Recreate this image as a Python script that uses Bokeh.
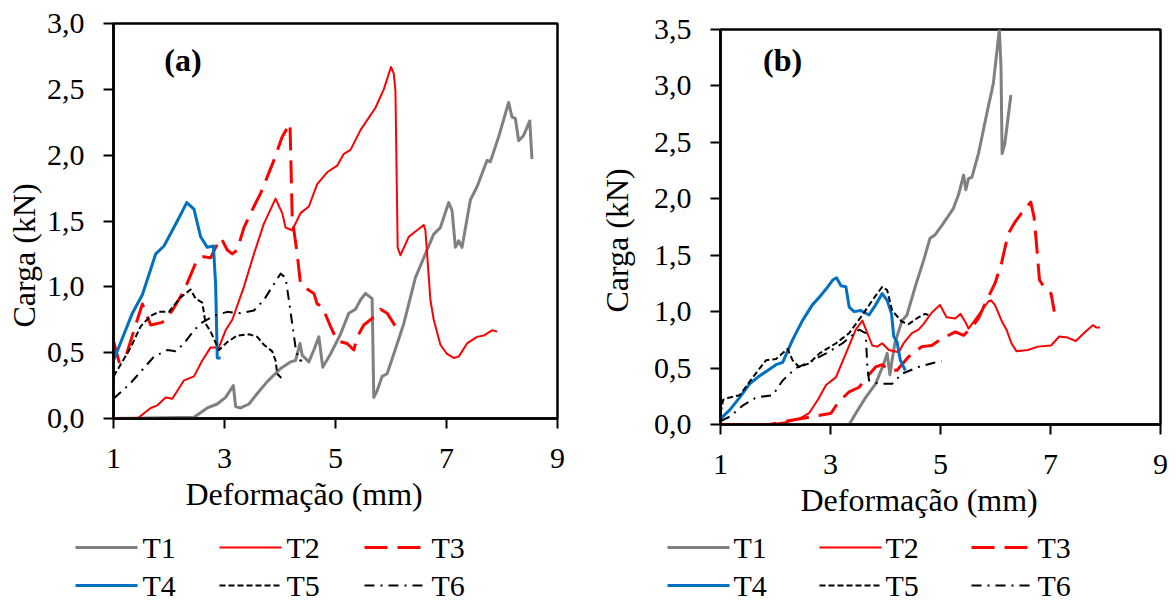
from bokeh.plotting import figure
from bokeh.layouts import row, column
from bokeh.models import FixedTicker, Label, Range1d, Title
from bokeh.core.properties import value
from bokeh.embed import file_html
from bokeh.resources import INLINE

FONT = "Liberation Serif"

# ---------------- data: panel (a) ----------------
T1a_x = [1.0, 2.45, 2.69, 2.87, 3.02, 3.16, 3.20, 3.29, 3.44, 3.59, 3.77, 4.01, 4.19, 4.28, 4.36, 4.40, 4.52, 4.61, 4.70, 4.77, 4.91, 5.09, 5.24, 5.36, 5.45, 5.54, 5.66, 5.69, 5.75, 5.84, 5.93, 6.05, 6.23, 6.44, 6.62, 6.77, 6.89, 7.04, 7.10, 7.16, 7.22, 7.28, 7.43, 7.55, 7.73, 7.79, 7.94, 8.12, 8.18, 8.24, 8.30, 8.39, 8.50, 8.54]
T1a_y = [0.0, 0.01, 0.08, 0.11, 0.16, 0.25, 0.09, 0.08, 0.11, 0.19, 0.28, 0.38, 0.43, 0.44, 0.57, 0.48, 0.43, 0.52, 0.62, 0.39, 0.49, 0.64, 0.80, 0.83, 0.90, 0.95, 0.91, 0.16, 0.21, 0.32, 0.34, 0.49, 0.72, 1.07, 1.25, 1.40, 1.45, 1.64, 1.58, 1.30, 1.35, 1.30, 1.66, 1.76, 1.96, 1.95, 2.14, 2.40, 2.29, 2.28, 2.11, 2.15, 2.26, 1.97]

T2a_x = [1.0, 1.43, 1.67, 1.79, 1.94, 2.06, 2.27, 2.45, 2.60, 2.75, 2.90, 3.02, 3.14, 3.35, 3.53, 3.71, 3.92, 4.04, 4.10, 4.22, 4.37, 4.52, 4.67, 4.85, 5.03, 5.15, 5.27, 5.45, 5.72, 5.87, 6.00, 6.05, 6.08, 6.12, 6.17, 6.32, 6.47, 6.59, 6.62, 6.71, 6.77, 6.89, 7.01, 7.13, 7.22, 7.37, 7.55, 7.67, 7.82, 7.91]
T2a_y = [0.0, 0.0, 0.08, 0.10, 0.16, 0.15, 0.29, 0.32, 0.44, 0.54, 0.54, 0.67, 0.75, 1.00, 1.25, 1.48, 1.67, 1.56, 1.45, 1.43, 1.56, 1.61, 1.78, 1.87, 1.92, 2.01, 2.04, 2.19, 2.36, 2.50, 2.67, 2.62, 2.49, 1.30, 1.24, 1.38, 1.43, 1.47, 1.43, 0.90, 0.75, 0.56, 0.49, 0.46, 0.47, 0.57, 0.62, 0.63, 0.67, 0.66]

T3a_x = [1.0, 1.10, 1.22, 1.52, 1.67, 1.88, 2.06, 2.27, 2.48, 2.60, 2.75, 2.84, 2.94, 3.05, 3.14, 3.23, 3.35, 3.53, 3.65, 3.89, 4.04, 4.18, 4.22, 4.25, 4.31, 4.37, 4.43, 4.61, 4.67, 4.76, 4.91, 5.03, 5.21, 5.33, 5.39, 5.51, 5.66, 5.81, 5.93, 6.08]
T3a_y = [0.59, 0.43, 0.47, 0.87, 0.71, 0.73, 0.82, 0.97, 1.18, 1.23, 1.22, 1.30, 1.37, 1.28, 1.25, 1.28, 1.45, 1.61, 1.71, 1.96, 2.14, 2.24, 1.53, 1.43, 1.25, 1.02, 1.00, 0.95, 0.87, 0.85, 0.70, 0.59, 0.57, 0.52, 0.62, 0.71, 0.76, 0.83, 0.80, 0.70]

T4a_x = [1.0, 1.34, 1.52, 1.76, 1.91, 2.15, 2.32, 2.45, 2.57, 2.69, 2.80, 2.84, 2.87, 2.93]
T4a_y = [0.44, 0.80, 0.94, 1.25, 1.31, 1.50, 1.64, 1.59, 1.38, 1.30, 1.31, 1.02, 0.46, 0.46]

T5a_x = [1.0, 1.10, 1.31, 1.49, 1.67, 1.82, 2.00, 2.21, 2.39, 2.48, 2.60, 2.66, 2.75, 2.90, 3.05, 3.23, 3.44, 3.59, 3.71, 3.86, 3.92, 3.95, 4.04]
T5a_y = [0.32, 0.39, 0.54, 0.70, 0.78, 0.81, 0.81, 0.92, 0.98, 0.91, 0.88, 0.72, 0.66, 0.52, 0.58, 0.63, 0.64, 0.62, 0.56, 0.51, 0.44, 0.34, 0.30]

T6a_x = [1.0, 1.16, 1.31, 1.52, 1.73, 1.97, 2.12, 2.27, 2.45, 2.60, 2.81, 3.05, 3.29, 3.53, 3.71, 3.89, 4.01, 4.10, 4.16, 4.22, 4.28, 4.34, 4.40]
T6a_y = [0.15, 0.21, 0.27, 0.37, 0.47, 0.52, 0.51, 0.57, 0.67, 0.73, 0.78, 0.81, 0.80, 0.82, 0.90, 1.02, 1.10, 1.07, 0.90, 0.72, 0.54, 0.44, 0.44]

# ---------------- data: panel (b) ----------------
T1b_x = [1.0, 3.34, 3.46, 3.64, 3.82, 3.97, 4.03, 4.08, 4.12, 4.17, 4.30, 4.39, 4.54, 4.69, 4.81, 4.90, 5.02, 5.23, 5.33, 5.42, 5.46, 5.51, 5.57, 5.69, 5.84, 5.96, 6.07, 6.10, 6.12, 6.17, 6.28]
T1b_y = [0.0, 0.0, 0.10, 0.24, 0.36, 0.54, 0.63, 0.44, 0.57, 0.72, 0.92, 0.97, 1.22, 1.45, 1.65, 1.68, 1.76, 1.91, 2.04, 2.21, 2.08, 2.18, 2.19, 2.40, 2.75, 3.02, 3.50, 3.17, 2.40, 2.49, 2.92]

T2b_x = [1.0, 1.89, 2.19, 2.43, 2.61, 2.77, 2.92, 3.10, 3.28, 3.46, 3.58, 3.67, 3.76, 3.85, 3.94, 4.06, 4.24, 4.33, 4.48, 4.60, 4.69, 4.84, 4.99, 5.11, 5.27, 5.36, 5.45, 5.51, 5.69, 5.87, 5.92, 5.99, 6.11, 6.20, 6.29, 6.38, 6.59, 6.77, 7.01, 7.16, 7.31, 7.46, 7.61, 7.77, 7.83, 7.90]
T2b_y = [0.0, 0.0, 0.02, 0.05, 0.10, 0.22, 0.35, 0.42, 0.63, 0.84, 0.92, 0.81, 0.70, 0.69, 0.72, 0.66, 0.64, 0.72, 0.81, 0.84, 0.89, 0.99, 1.06, 0.95, 0.94, 0.98, 0.91, 0.85, 0.97, 1.09, 1.10, 1.06, 0.92, 0.84, 0.72, 0.65, 0.66, 0.69, 0.70, 0.78, 0.77, 0.74, 0.81, 0.88, 0.86, 0.86]

T3b_x = [1.0, 1.89, 2.31, 2.67, 3.01, 3.13, 3.34, 3.52, 3.64, 3.82, 3.94, 4.06, 4.21, 4.42, 4.66, 4.84, 5.02, 5.27, 5.42, 5.57, 5.69, 5.84, 5.99, 6.11, 6.23, 6.35, 6.47, 6.64, 6.70, 6.74, 6.80, 6.92, 7.01, 7.07]
T3b_y = [0.0, 0.0, 0.04, 0.07, 0.10, 0.19, 0.29, 0.33, 0.41, 0.51, 0.53, 0.48, 0.48, 0.60, 0.69, 0.70, 0.76, 0.82, 0.79, 0.86, 0.94, 1.10, 1.25, 1.43, 1.69, 1.79, 1.87, 1.97, 1.84, 1.63, 1.28, 1.19, 1.16, 1.00]

T4b_x = [1.0, 1.17, 1.35, 1.53, 1.68, 1.83, 2.01, 2.13, 2.31, 2.49, 2.67, 2.80, 2.92, 3.04, 3.11, 3.19, 3.28, 3.34, 3.43, 3.55, 3.70, 3.82, 3.94, 4.03, 4.11, 4.15, 4.21, 4.27, 4.36]
T4b_y = [0.05, 0.13, 0.24, 0.36, 0.42, 0.47, 0.53, 0.55, 0.75, 0.92, 1.06, 1.13, 1.20, 1.28, 1.30, 1.23, 1.22, 1.04, 1.00, 1.01, 0.97, 1.06, 1.16, 1.10, 0.98, 0.78, 0.73, 0.57, 0.48]

T5b_x = [1.0, 1.05, 1.17, 1.35, 1.59, 1.83, 2.01, 2.22, 2.31, 2.43, 2.61, 2.80, 3.10, 3.34, 3.58, 3.76, 3.94, 4.03, 4.12, 4.30, 4.42, 4.60, 4.72, 4.78]
T5b_y = [0.10, 0.22, 0.24, 0.26, 0.42, 0.57, 0.58, 0.67, 0.57, 0.51, 0.54, 0.63, 0.72, 0.81, 0.97, 1.10, 1.22, 1.19, 1.01, 0.91, 0.89, 0.95, 0.98, 0.97]

T6b_x = [1.0, 1.17, 1.41, 1.65, 1.95, 2.13, 2.37, 2.61, 2.92, 3.22, 3.52, 3.64, 3.67, 3.70, 3.88, 4.12, 4.30, 4.60, 4.90, 5.02]
T6b_y = [0.03, 0.07, 0.17, 0.24, 0.26, 0.39, 0.50, 0.55, 0.63, 0.72, 0.84, 0.81, 0.51, 0.39, 0.36, 0.36, 0.45, 0.51, 0.55, 0.56]

series_names = ["T1", "T2", "T3", "T4", "T5", "T6"]
x_ticks = [1, 3, 5, 7, 9]
y_ticks_a = [0.0, 0.5, 1.0, 1.5, 2.0, 2.5, 3.0]
y_labels_a = ["0,0", "0,5", "1,0", "1,5", "2,0", "2,5", "3,0"]
y_ticks_b = [0.0, 0.5, 1.0, 1.5, 2.0, 2.5, 3.0, 3.5]
y_labels_b = ["0,0", "0,5", "1,0", "1,5", "2,0", "2,5", "3,0", "3,5"]

STYLES = [
    dict(line_color="#808080", line_width=3, line_dash="solid"),
    dict(line_color="#ff0000", line_width=2, line_dash="solid"),
    dict(line_color="#ff0000", line_width=3, line_dash="23 10"),
    dict(line_color="#0070c0", line_width=3, line_dash="solid"),
    dict(line_color="#000000", line_width=2, line_dash="6 3"),
    dict(line_color="#000000", line_width=2, line_dash="10 6 2 6"),
]

MAIN_H = 530


def make_panel(series, ymax, yticks, ylabels, tag, tag_xy, width, b_left, b_right, b_top,
               xt_offset, yt_offset, yt_standoff):
    p = figure(width=width, height=MAIN_H, x_range=Range1d(1, 9), y_range=Range1d(0, ymax),
               output_backend="svg", toolbar_location=None,
               min_border_left=b_left, min_border_right=b_right,
               min_border_top=b_top, min_border_bottom=MAIN_H - b_top - 395)
    p.xgrid.visible = False
    p.ygrid.visible = False
    p.outline_line_color = "black"
    p.outline_line_width = 2.5
    p.outline_line_alpha = 1.0
    p.background_fill_color = "white"
    p.border_fill_color = "white"

    p.xaxis.ticker = FixedTicker(ticks=x_ticks)
    p.yaxis.ticker = FixedTicker(ticks=yticks)
    p.yaxis.major_label_overrides = {t: l for t, l in zip(yticks, ylabels)}
    for ax in (p.xaxis[0], p.yaxis[0]):
        ax.axis_line_width = 2.5
        ax.axis_line_color = "black"
        ax.major_tick_line_width = 2
        ax.major_tick_line_color = "black"
        ax.major_tick_out = 10
        ax.major_tick_in = 0
        ax.minor_tick_out = 0
        ax.minor_tick_in = 0
        ax.major_label_text_font = FONT
        ax.major_label_text_font_size = "30px"
        ax.major_label_text_color = "black"
    p.xaxis.major_label_standoff = 20
    p.yaxis.major_label_standoff = 19

    # axis titles as side titles, offset along the axis like the reference
    p.add_layout(Title(text="Carga (kN)", align="left", offset=yt_offset, standoff=yt_standoff,
                       text_font=FONT, text_font_size="32px", text_font_style="normal",
                       text_color="black"), "left")
    p.add_layout(Title(text="Deformação (mm)", align="left", offset=xt_offset, standoff=10,
                       vertical_align="top",
                       text_font=FONT, text_font_size="32px", text_font_style="normal",
                       text_color="black"), "below")

    for (xs, ys), st in zip(series, STYLES):
        p.line(xs, ys, line_join="round", **st)

    p.add_layout(Label(x=tag_xy[0], y=tag_xy[1], text=tag, text_font=FONT,
                       text_font_size="32px", text_font_style="bold", text_color="black",
                       text_align="center", text_baseline="middle"))
    return p


def make_legend(width, col_x, label_dx):
    # legend strip below a panel; coordinates are pixels inside the strip
    h = 602 - MAIN_H
    q = figure(width=width, height=h, x_range=Range1d(0, width), y_range=Range1d(0, h),
               output_backend="svg", toolbar_location=None,
               min_border_left=0, min_border_right=0, min_border_top=0, min_border_bottom=0)
    q.axis.visible = False
    q.grid.visible = False
    q.outline_line_color = None
    q.background_fill_color = "white"
    q.border_fill_color = "white"
    row_y = [55, 17]
    tx, ty = [], []
    for i, (name, st) in enumerate(zip(series_names, STYLES)):
        x0 = col_x[i % 3]
        y0 = row_y[i // 3]
        q.line([x0, x0 + 62], [y0, y0], **st)
        tx.append(x0 + label_dx)
        ty.append(y0)
    q.text(x=tx, y=ty, text=series_names, text_font=value(FONT), text_font_size="30px",
           text_color="black", text_align="left", text_baseline="middle")
    return q


series_a = [(T1a_x, T1a_y), (T2a_x, T2a_y), (T3a_x, T3a_y), (T4a_x, T4a_y), (T5a_x, T5a_y), (T6a_x, T6a_y)]
series_b = [(T1b_x, T1b_y), (T2b_x, T2b_y), (T3b_x, T3b_y), (T4b_x, T4b_y), (T5b_x, T5b_y), (T6b_x, T6b_y)]

pa = make_panel(series_a, 3.0, y_ticks_a, y_labels_a, "(a)", (2.25, 2.72), 580, 113, 23, 23, 72, 91, 4)
pb = make_panel(series_b, 3.5, y_ticks_b, y_labels_b, "(b)", (2.13, 3.23), 596, 137, 16, 29, 80, 112, 32)
la = make_legend(580, [75, 219, 364], 67)
lb = make_legend(596, [87, 239, 391], 66)

layout = row(column(pa, row(la)), column(pb, row(lb)))
open("out.html", "w").write(file_html(layout, INLINE))
